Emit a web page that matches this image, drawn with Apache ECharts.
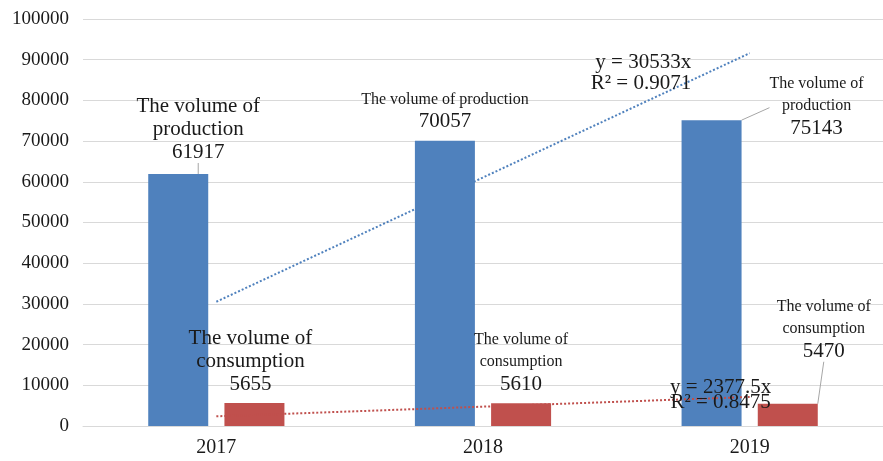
<!DOCTYPE html>
<html>
<head>
<meta charset="utf-8">
<script src="https://cdn.jsdelivr.net/npm/echarts@6/dist/echarts.min.js"></script>
<style>html,body{margin:0;padding:0;background:#fff}#c{width:883px;height:461px}</style>
</head>
<body>
<div id="c"></div>
<script>
const categories = ['2017', '2018', '2019'];
const productionValues = [61917, 70057, 75143];
const consumptionValues = [5655, 5610, 5470];
const productionTrend = [30533, 61066, 91599];
const consumptionTrend = [2377.5, 4755, 7132.5];
const productionName = 'The volume of production';
const consumptionName = 'The volume of consumption';
const productionEquation = ['y = 30533x', 'R² = 0.9071'];
const consumptionEquation = ['y = 2377.5x', 'R² = 0.8475'];

const FONT = '"Liberation Serif", "Times New Roman", serif';
const TXT = '#1a1a1a';

// label layout helpers (styles, not data)
const prodFormat = [
  v => '{b|The volume of}\n{b|production}\n{b|' + v + '}',
  v => '{s|' + productionName + '}\n{b2|' + v + '}',
  v => '{s|The volume of}\n{s|production}\n{b|' + v + '}'
];
const consFormat = [
  v => '{b|The volume of}\n{b|consumption}\n{b|' + v + '}',
  v => '{s|The volume of}\n{s|consumption}\n{b|' + v + '}',
  v => '{s|The volume of}\n{s|consumption}\n{b|' + v + '}'
];
const prodShift = [[20, -5], [0, -3], [105, 25]];
const consShift = [[-4, -2], [0, -2], [36, -36]];
const prodLeader = [true, false, true];
const consLeader = [false, false, true];

const rich = {
  b: { fontFamily: FONT, fontSize: 21, lineHeight: 23, color: TXT },
  b2: { fontFamily: FONT, fontSize: 21, lineHeight: 22, color: TXT },
  s: { fontFamily: FONT, fontSize: 16, lineHeight: 22, color: TXT }
};

function barData(values, formats, leaders) {
  return values.map((v, i) => ({
    value: v,
    label: { formatter: formats[i](v) },
    labelLine: { show: leaders[i], lineStyle: { color: '#a6a6a6', width: 1 } }
  }));
}

function trendData(values, labelCfg) {
  return values.map((v, i) => i === values.length - 1
    ? { value: v, label: Object.assign({ show: true }, labelCfg) }
    : { value: v });
}

const chart = echarts.init(document.getElementById('c'));
chart.setOption({
  animation: false,
  grid: { left: 83, right: 0, top: 19, bottom: 35, containLabel: false },
  xAxis: {
    type: 'category',
    data: categories,
    axisTick: { show: false },
    axisLine: { show: true, lineStyle: { color: '#d9d9d9' } },
    axisLabel: { fontFamily: FONT, fontSize: 20, color: TXT, margin: 12 }
  },
  yAxis: {
    type: 'value',
    min: 0, max: 100000, interval: 10000,
    axisLine: { show: false },
    axisTick: { show: false },
    splitLine: { lineStyle: { color: '#d9d9d9', width: 1 } },
    axisLabel: { fontFamily: FONT, fontSize: 19, color: TXT, margin: 14, formatter: v => String(v) }
  },
  series: [
    {
      name: productionName,
      type: 'bar',
      z: 3,
      barWidth: 60,
      barGap: '27%',
      itemStyle: { color: '#4f81bd' },
      label: { show: true, position: 'top', distance: 5, rich: rich, align: 'center' },
      labelLayout: p => ({ dx: prodShift[p.dataIndex][0], dy: prodShift[p.dataIndex][1] }),
      data: barData(productionValues, prodFormat, prodLeader)
    },
    {
      name: consumptionName,
      type: 'bar',
      z: 3,
      barWidth: 60,
      barGap: '27%',
      itemStyle: { color: '#c0504d' },
      label: { show: true, position: 'top', distance: 5, rich: rich, align: 'center' },
      labelLayout: p => ({ dx: consShift[p.dataIndex][0], dy: consShift[p.dataIndex][1] }),
      data: barData(consumptionValues, consFormat, consLeader)
    },
    {
      name: 'Linear (production)',
      type: 'line',
      z: 1,
      silent: true,
      symbol: 'circle',
      symbolSize: 1,
      showSymbol: true,
      itemStyle: { color: 'rgba(0,0,0,0)' },
      lineStyle: { color: '#4f81bd', width: 2, type: 'dotted' },
      label: { show: false },
      data: trendData(productionTrend, {
        position: 'left', distance: 58, offset: [0, 20],
        formatter: productionEquation.join('\n'),
        fontFamily: FONT, fontSize: 21, lineHeight: 21, color: TXT
      })
    },
    {
      name: 'Linear (consumption)',
      type: 'line',
      z: 4,
      silent: true,
      symbol: 'circle',
      symbolSize: 1,
      showSymbol: true,
      itemStyle: { color: 'rgba(0,0,0,0)' },
      lineStyle: { color: '#c0504d', width: 2, type: 'dotted' },
      label: { show: false },
      data: trendData(consumptionTrend, {
        position: 'inside', offset: [-29, -2],
        formatter: consumptionEquation.join('\n'),
        fontFamily: FONT, fontSize: 21, lineHeight: 15, color: TXT
      })
    }
  ]
});
</script>
</body>
</html>
